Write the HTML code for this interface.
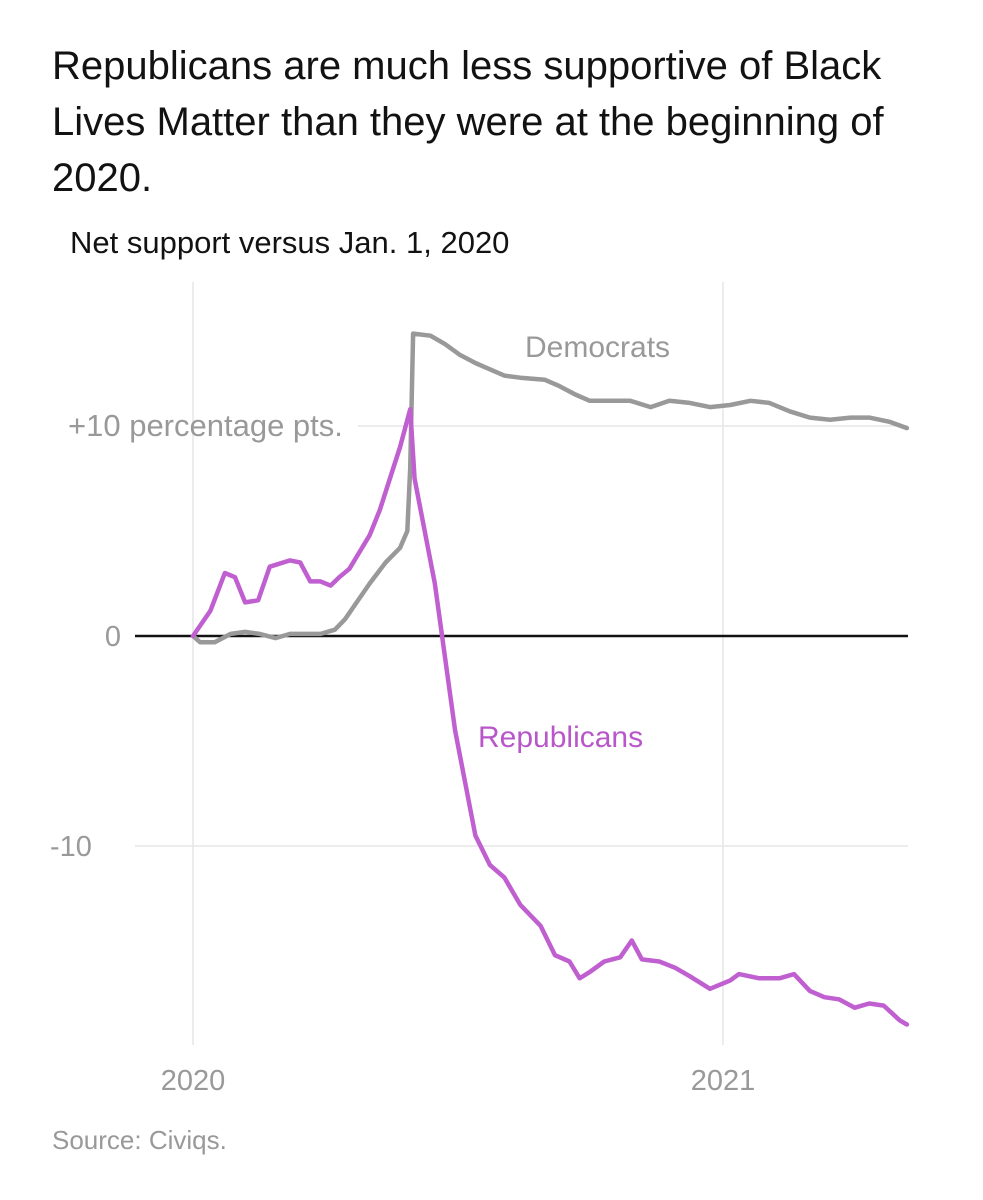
<!DOCTYPE html>
<html><head><meta charset="utf-8"><style>
body{margin:0;background:#fff;width:983px;height:1200px;overflow:hidden;font-family:"Liberation Sans",sans-serif}
#title{position:absolute;left:52px;top:38px;width:900px;font-size:40px;line-height:56px;color:#121212}
#sub{position:absolute;left:70px;top:225px;font-size:31px;color:#121212}
svg{position:absolute;left:0;top:0}
</style></head><body>
<div id="title">Republicans are much less supportive of Black<br>Lives Matter than they were at the beginning of<br>2020.</div>
<div id="sub">Net support versus Jan. 1, 2020</div>
<svg id="chart" width="983" height="1200"></svg>
<script>
const demDays=[0,5,15,26,36,46,57,67,77,88,98,105,112,122,133,143,148,150,152,164,174,184,195,205,215,226,243,253,264,274,288,302,316,329,343,357,371,385,398,412,426,440,454,467,481,493];
const demVals=[0,-0.3,-0.3,0.1,0.2,0.1,-0.1,0.1,0.1,0.1,0.3,0.8,1.5,2.5,3.5,4.2,5,8,14.4,14.3,13.9,13.4,13.0,12.7,12.4,12.3,12.2,11.9,11.5,11.2,11.2,11.2,10.9,11.2,11.1,10.9,11.0,11.2,11.1,10.7,10.4,10.3,10.4,10.4,10.2,9.9];
const repDays=[0,5,12,22,29,36,45,53,67,74,81,88,95,101,108,115,122,129,136,143,150,153,160,167,174,181,188,195,205,215,226,240,250,260,267,274,284,295,303,310,322,333,343,357,371,377,391,405,415,426,436,446,457,467,477,488,493];
const repVals=[0,0.5,1.2,3.0,2.8,1.6,1.7,3.3,3.6,3.5,2.6,2.6,2.4,2.8,3.2,4.0,4.8,6.0,7.5,9.0,10.8,7.5,5,2.5,-1,-4.5,-7,-9.5,-10.9,-11.5,-12.8,-13.8,-15.2,-15.5,-16.3,-16.0,-15.5,-15.3,-14.5,-15.4,-15.5,-15.8,-16.2,-16.8,-16.4,-16.1,-16.3,-16.3,-16.1,-16.9,-17.2,-17.3,-17.7,-17.5,-17.6,-18.3,-18.5];
const yTicks=[10,0,-10];
const yTickLabels=["+10 percentage pts.","0","-10"];
const xTicks=[0,366];
const xTickLabels=["2020","2021"];
const X=d=>193+d*530/366, Y=v=>636-v*21;
const svg=document.getElementById('chart');const NS='http://www.w3.org/2000/svg';
function mk(t,a){const e=document.createElementNS(NS,t);for(const k in a)e.setAttribute(k,a[k]);svg.appendChild(e);return e;}
xTicks.forEach((d,i)=>{
 const l=mk('line',{x1:X(d),x2:X(d),y1:282,y2:1045,stroke:'#e6e6e6','stroke-width':1.5});
 
 
 const t=mk('text',{x:X(d),y:1090,'text-anchor':'middle','font-size':29,fill:'#999'});t.textContent=xTickLabels[i];
 
 
});
yTicks.forEach((v,i)=>{
 const x1=v===10?358:135;
 const l=mk('line',{x1:x1,x2:908,y1:Y(v),y2:Y(v),stroke:v===0?'#121212':'#e6e6e6','stroke-width':v===0?2.5:1.5});
 
 
 const t=mk('text',{x:v===10?68:(v===0?121:50),y:Y(v)+10,'font-size':v===10?31:29,fill:'#999','text-anchor':v===0?'end':'start'});
 t.textContent=yTickLabels[i];
 
 
});
function line(days,vals,color,name){
 const p=mk('polyline',{points:days.map((d,i)=>X(d)+','+Y(vals[i])).join(' '),fill:'none',stroke:color,'stroke-width':4.5,'stroke-linejoin':'round','stroke-linecap':'round'});
 
 
}
line(demDays,demVals,'#999999','democrats-line');
line(repDays,repVals,'#c05fd0','republicans-line');
const d=mk('text',{x:525,y:357,'font-size':30,fill:'#999'});d.textContent='Democrats';


const r=mk('text',{x:478,y:747,'font-size':30,fill:'#b857c9'});r.textContent='Republicans';


const s=mk('text',{x:52,y:1149,'font-size':26,fill:'#999'});s.textContent='Source: Civiqs.';


</script>
</body></html>
